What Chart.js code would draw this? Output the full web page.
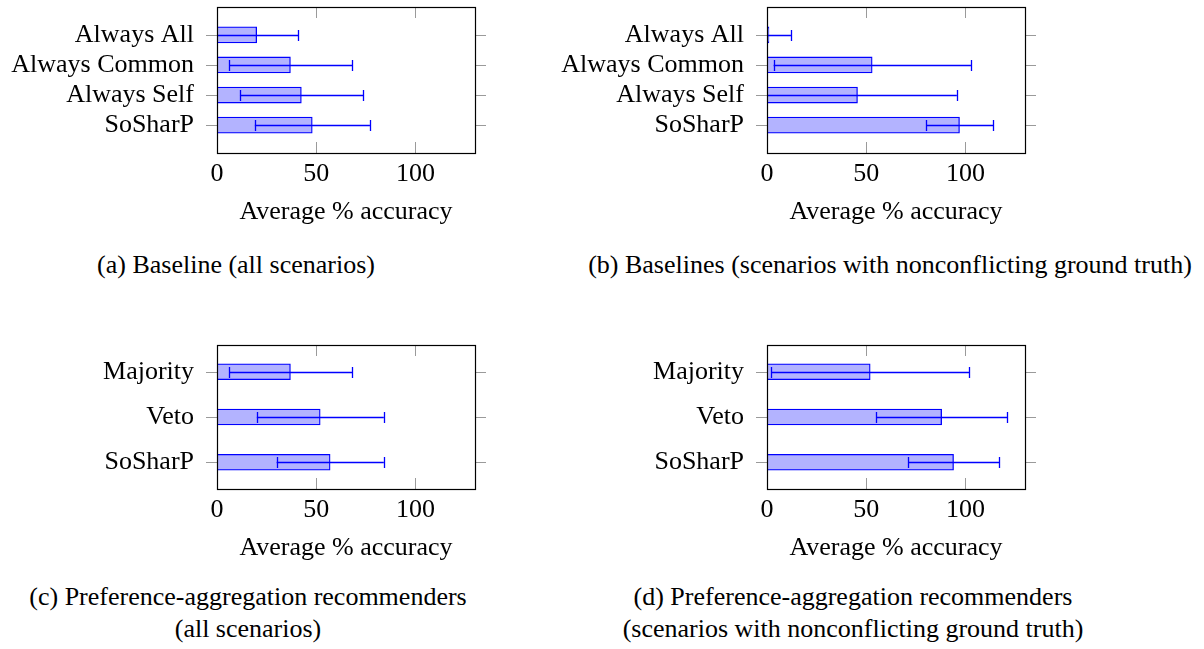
<!DOCTYPE html>
<html><head><meta charset="utf-8">
<script src="https://cdn.jsdelivr.net/npm/chart.js@4.4.0/dist/chart.umd.min.js"></script>
<style>
html,body{margin:0;padding:0;background:#fff;}
body{width:1204px;height:649px;position:relative;overflow:hidden;font-family:"Liberation Serif","Times New Roman",serif;}
.panel{position:absolute;width:560px;height:240px;}
.panel canvas{display:block;}
.cap{position:absolute;width:700px;text-align:center;font-size:26px;line-height:32px;color:#000;white-space:nowrap;}
</style></head><body>
<div class="panel" style="left:0;top:0"><canvas id="ca" width="560" height="240"></canvas></div>
<div class="panel" style="left:550px;top:0"><canvas id="cb" width="560" height="240"></canvas></div>
<div class="panel" style="left:0;top:336px"><canvas id="cc" width="560" height="240"></canvas></div>
<div class="panel" style="left:550px;top:336px"><canvas id="cd" width="560" height="240"></canvas></div>
<div class="cap" style="left:-114px;top:249px">(a) Baseline (all scenarios)</div>
<div class="cap" style="left:540px;top:249px">(b) Baselines (scenarios with nonconflicting ground truth)</div>
<div class="cap" style="left:-102px;top:581px">(c) Preference-aggregation recommenders<br>(all scenarios)</div>
<div class="cap" style="left:503px;top:581px">(d) Preference-aggregation recommenders<br>(scenarios with nonconflicting ground truth)</div>
<script>
const baselineLabels = ['Always All', 'Always Common', 'Always Self', 'SoSharP'];
const aggLabels = ['Majority', 'Veto', 'SoSharP'];
const aValues = [20, 37, 42.5, 48];
const aErrors = [21, 31, 31, 29];
const bValues = [1, 53, 45.6, 97];
const bErrors = [11, 49.7, 50, 16.8];
const cValues = [37, 52, 57];
const cErrors = [31, 32, 27];
const dValues = [52, 88, 94];
const dErrors = [50, 33, 23];
const xTicks = [0, 50, 100];
const xMin = 0, xMax = 130;
const axisTitle = 'Average % accuracy';

const FONT = 'Liberation Serif';
const BAR_FILL = '#b3b3ff';
const BAR_LINE = '#0000ff';
const TICK_GRAY = '#9a9a9a';

const framePlugin = {
  id: 'frameErr',
  afterDatasetsDraw(chart) {
    const ctx = chart.ctx;
    const ds = chart.data.datasets[0];
    const xs = chart.scales.x, ys = chart.scales.y;
    ctx.save();
    ctx.strokeStyle = BAR_LINE;
    ctx.lineWidth = 1.3;
    ds.data.forEach((p, i) => {
      const e = ds.errors[i];
      const y = Math.round(ys.getPixelForValue(p.y)) + 0.5;
      const loV = p.x - e, hiV = p.x + e;
      const x1 = xs.getPixelForValue(Math.max(loV, xs.min));
      const x2 = xs.getPixelForValue(hiV);
      ctx.beginPath();
      ctx.moveTo(x1, y); ctx.lineTo(x2, y);
      if (loV >= xs.min) { ctx.moveTo(Math.round(x1) + 0.5, y - 5.5); ctx.lineTo(Math.round(x1) + 0.5, y + 5.5); }
      ctx.moveTo(Math.round(x2) + 0.5, y - 5.5); ctx.lineTo(Math.round(x2) + 0.5, y + 5.5);
      ctx.stroke();
    });
    ctx.restore();
  },
  afterDraw(chart) {
    const ctx = chart.ctx;
    const a = chart.chartArea;
    const xs = chart.scales.x, ys = chart.scales.y;
    const L = 11;
    ctx.save();
    ctx.strokeStyle = TICK_GRAY;
    ctx.lineWidth = 1;
    ctx.beginPath();
    xs.ticks.forEach(t => {
      if (t.value <= xs.min) return;
      const x = Math.round(xs.getPixelForValue(t.value)) + 0.5;
      ctx.moveTo(x, a.top); ctx.lineTo(x, a.top + L);
      ctx.moveTo(x, a.bottom); ctx.lineTo(x, a.bottom - L);
    });
    ys.ticks.forEach(t => {
      const y = Math.round(ys.getPixelForValue(t.value)) + 0.5;
      ctx.moveTo(a.left - L, y); ctx.lineTo(a.left, y);
      ctx.moveTo(a.right, y); ctx.lineTo(a.right + L, y);
    });
    ctx.stroke();
    ctx.strokeStyle = '#000';
    ctx.lineWidth = 1.2;
    ctx.strokeRect(Math.round(a.left) + 0.5, Math.round(a.top) + 0.5, Math.round(a.right - a.left), Math.round(a.bottom - a.top));
    ctx.restore();
  }
};

function zeroPad(s) { s.paddingTop = 0; s.paddingBottom = 0; s.paddingLeft = 0; s.paddingRight = 0; }

function makeChart(id, labels, values, errors, yPad, topPad) {
  const n = labels.length;
  return new Chart(document.getElementById(id), {
    type: 'bar',
    data: {
      datasets: [{
        data: values.map((v, i) => ({ x: v, y: i })),
        errors: errors,
        backgroundColor: BAR_FILL,
        borderColor: BAR_LINE,
        borderWidth: 1.3,
        borderSkipped: false,
        barThickness: 16
      }]
    },
    options: {
      indexAxis: 'y',
      responsive: false,
      animation: false,
      devicePixelRatio: 1,
      layout: { padding: { top: topPad, left: 0, right: 85, bottom: 0 } },
      plugins: { legend: { display: false }, tooltip: { enabled: false } },
      scales: {
        x: {
          type: 'linear', min: xMin, max: xMax, position: 'bottom', offset: false,
          grid: { display: false, drawTicks: false }, border: { display: false },
          afterBuildTicks: s => { s.ticks = xTicks.map(v => ({ value: v })); },
          afterFit: s => { s.height = 87; zeroPad(s); },
          ticks: { color: '#000', font: { family: FONT, size: 26 }, padding: 6, maxRotation: 0, autoSkip: false },
          title: { display: true, text: axisTitle, color: '#000', font: { family: FONT, size: 26 }, padding: { top: 0, bottom: 12 } }
        },
        y: {
          type: 'linear', reverse: true, min: -yPad, max: n - 1 + yPad, position: 'left', offset: false,
          grid: { display: false, drawTicks: false, offset: false }, border: { display: false },
          afterBuildTicks: s => { s.ticks = labels.map((_, i) => ({ value: i })); },
          afterFit: s => { s.width = 217; zeroPad(s); },
          ticks: { color: '#000', font: { family: FONT, size: 26 }, padding: 23, autoSkip: false,
                   callback: v => (labels[v] !== undefined ? labels[v] : '') }
        }
      }
    },
    plugins: [framePlugin]
  });
}

makeChart('ca', baselineLabels, aValues, aErrors, 0.925, 7);
makeChart('cb', baselineLabels, bValues, bErrors, 0.925, 7);
makeChart('cc', aggLabels, cValues, cErrors, 0.59, 9);
makeChart('cd', aggLabels, dValues, dErrors, 0.59, 9);
</script>
</body></html>
